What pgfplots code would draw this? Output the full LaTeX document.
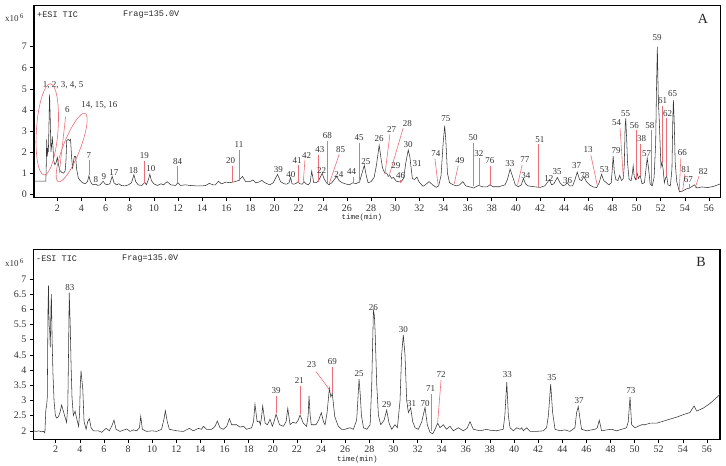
\documentclass[border=0pt]{standalone}
\usepackage{fontspec}
\setmainfont{Liberation Serif}
\setmonofont{Liberation Mono}
\usepackage{pgfplots}
\pgfplotsset{compat=1.18}
\definecolor{ann}{RGB}{236,110,120}
\definecolor{trace}{RGB}{55,55,55}
\pgfplotsset{chrom/.style={
  scale only axis, width=686.7pt, anchor=south west,
  axis line style={line width=1.5pt},
  tick align=outside, major tick length=3.5pt,
  tick style={black, line width=0.6pt},
  xtick={2,4,...,56}, minor tick num=0,
  xtick pos=lower, ytick pos=lower,
  ticklabel style={font=\fontsize{10}{10}\selectfont, text=black!80},
  /pgf/number format/assume math mode=true,
  clip mode=individual,
}}
\tikzset{lab/.style={font=\fontsize{9}{9}\selectfont, inner sep=0pt, text=black!80},
         rl/.style={ann, line width=0.6pt}}
\begin{document}
\begin{tikzpicture}
\useasboundingbox (0,0) rectangle (726pt,466pt);
% ---------------- Panel A ----------------
\begin{axis}[chrom, at={(34pt,268.3pt)}, height=192.4pt,
  xmin=0.07, xmax=56.97, ymin=-0.16, ymax=8.96, ytick={0,1,...,7}]
\addplot[trace, line width=0.55pt] coordinates {
(0.07,0.63) (1.05,0.63) (1.08,1.2) (1.12,2.6) (1.17,1.8) (1.22,2.2) (1.26,2.0) (1.3,3.0) (1.36,4.74) (1.42,3.5) (1.47,2.0) (1.53,2.3) (1.58,2.75) (1.64,2.3) (1.7,1.6) (1.8,1.4) (1.9,1.5) (2.0,1.75) (2.1,1.4) (2.2,1.15) (2.35,1.05) (2.5,1.0) (2.65,1.1) (2.72,1.6) (2.78,2.55) (2.9,2.6) (3.0,2.55) (3.1,2.6) (3.18,1.8) (3.27,1.2) (3.35,1.6) (3.42,1.8) (3.52,1.8) (3.6,1.2) (3.74,0.78) (3.9,0.65) (4.1,0.55) (4.3,0.5) (4.5,0.6) (4.62,0.88) (4.72,0.65) (4.85,0.5) (5.0,0.45) (5.2,0.48) (5.35,0.42) (5.55,0.45) (5.8,0.62) (5.95,0.5) (6.1,0.45) (6.35,0.5) (6.55,0.85) (6.7,0.55) (6.9,0.45) (7.1,0.5) (7.3,0.42) (7.6,0.4) (7.9,0.45) (8.15,0.55) (8.35,0.93) (8.5,0.6) (8.7,0.45) (9.0,0.42) (9.15,0.5) (9.25,0.58) (9.38,0.45) (9.55,0.7) (9.67,0.95) (9.8,0.65) (10.0,0.5) (10.3,0.42) (10.6,0.5) (10.8,0.45) (11.1,0.6) (11.4,0.45) (11.8,0.42) (12.0,0.55) (12.2,0.42) (12.6,0.45) (13.0,0.42) (13.5,0.4) (14.0,0.4) (14.3,0.42) (14.6,0.52) (14.9,0.45) (15.1,0.45) (15.35,0.62) (15.6,0.5) (16.0,0.58) (16.3,0.55) (16.7,0.6) (17.0,0.65) (17.35,0.85) (17.6,0.6) (17.95,0.6) (18.2,0.68) (18.45,0.55) (18.7,0.58) (18.95,0.66) (19.2,0.55) (19.6,0.45) (19.9,0.55) (20.25,0.95) (20.5,0.6) (20.8,0.5) (21.0,0.48) (21.2,0.55) (21.33,0.8) (21.45,0.5) (21.6,0.48) (21.8,0.52) (21.95,0.6) (22.1,0.5) (22.3,0.48) (22.45,0.6) (22.6,0.5) (22.8,0.45) (22.95,0.55) (23.08,1.1) (23.25,0.55) (23.45,0.55) (23.65,0.65) (23.95,1.0) (24.1,0.75) (24.3,0.55) (24.5,0.45) (24.75,0.55) (24.95,0.7) (25.15,0.85) (25.35,0.65) (25.6,0.55) (25.85,0.5) (26.2,0.45) (26.5,0.55) (26.75,0.5) (27.05,0.6) (27.25,1.0) (27.44,1.38) (27.6,0.9) (27.75,0.55) (28.0,0.6) (28.25,0.8) (28.45,1.4) (28.67,2.33) (28.85,1.6) (28.96,1.23) (29.15,1.0) (29.3,1.0) (29.42,0.85) (29.55,0.9) (29.7,0.76) (29.85,0.8) (30.1,0.62) (30.45,0.58) (30.7,0.75) (30.87,1.47) (31.08,2.1) (31.22,1.75) (31.42,0.75) (31.6,0.7) (31.8,0.82) (31.96,0.6) (32.3,0.38) (32.5,0.45) (32.8,0.6) (33.1,0.45) (33.4,0.33) (33.6,0.4) (33.8,0.9) (33.98,2.5) (34.1,3.25) (34.2,2.5) (34.33,1.0) (34.5,0.55) (34.8,0.45) (35.1,0.4) (35.35,0.45) (35.6,0.6) (35.85,0.4) (36.2,0.35) (36.5,0.3) (36.9,0.42) (37.3,0.35) (37.6,0.35) (37.85,0.45) (38.1,0.36) (38.6,0.36) (39.1,0.45) (39.3,0.7) (39.52,1.2) (39.75,0.8) (39.95,0.45) (40.2,0.36) (40.45,0.45) (40.62,0.75) (40.8,0.5) (41.0,0.4) (41.5,0.36) (42.0,0.33) (42.4,0.4) (42.78,0.7) (42.95,0.45) (43.15,0.5) (43.43,0.8) (43.65,0.55) (43.9,0.4) (44.1,0.45) (44.25,0.55) (44.45,0.4) (44.7,0.4) (44.9,0.7) (45.08,1.05) (45.28,0.7) (45.45,0.65) (45.63,0.85) (45.85,0.6) (46.1,0.45) (46.4,0.35) (46.7,0.32) (46.9,0.55) (47.1,0.95) (47.28,0.65) (47.5,0.55) (47.7,0.45) (47.9,0.55) (48.0,1.3) (48.06,1.82) (48.15,1.1) (48.28,0.7) (48.45,0.65) (48.6,0.9) (48.75,0.65) (48.9,0.75) (48.98,1.4) (49.05,3.2) (49.1,3.6) (49.18,2.6) (49.25,1.5) (49.38,0.7) (49.55,0.65) (49.65,1.0) (49.72,1.35) (49.8,0.85) (49.92,0.7) (50.05,1.0) (50.15,0.75) (50.3,0.9) (50.45,0.5) (50.65,0.55) (50.78,1.2) (50.88,1.72) (51.0,1.2) (51.12,0.5) (51.3,0.4) (51.45,0.8) (51.58,2.4) (51.65,5.0) (51.72,7.0) (51.8,4.5) (51.88,3.5) (51.96,2.2) (52.02,1.3) (52.1,1.5) (52.2,1.2) (52.3,0.55) (52.42,0.8) (52.5,0.85) (52.6,0.45) (52.8,0.4) (52.93,1.2) (53.0,3.5) (53.05,4.47) (53.12,3.4) (53.2,1.5) (53.33,0.6) (53.55,0.12) (53.8,0.15) (54.1,0.25) (54.4,0.3) (54.8,0.45) (55.0,0.3) (55.4,0.35) (55.9,0.32) (56.4,0.38) (56.97,0.5)
};
% red lines
\draw[rl] (axis cs:4.62,1.63) -- (axis cs:4.62,0.91);
\draw[rl] (axis cs:2.69,3.68) -- (axis cs:2.16,1.0);
\draw[rl] (axis cs:9.21,1.57) -- (axis cs:9.21,0.55);
\draw[rl] (axis cs:11.97,1.33) -- (axis cs:11.97,0.55);
\draw[rl] (axis cs:16.5,1.36) -- (axis cs:16.5,0.6);
\draw[rl] (axis cs:17.05,2.1) -- (axis cs:17.05,0.62);
\draw[rl] (axis cs:21.97,1.38) -- (axis cs:21.97,0.55);
\draw[rl] (axis cs:22.52,1.63) -- (axis cs:22.38,0.55);
\draw[rl] (axis cs:23.65,1.88) -- (axis cs:23.65,0.6);
\draw[rl] (axis cs:24.37,2.52) -- (axis cs:24.37,0.55);
\draw[rl] (axis cs:25.36,1.9) -- (axis cs:24.53,0.5);
\draw[rl] (axis cs:26.52,0.82) -- (axis cs:26.52,0.52);
\draw[rl] (axis cs:27.02,2.45) -- (axis cs:27.02,0.55);
\draw[rl] (axis cs:29.56,2.84) -- (axis cs:29.15,0.95);
\draw[rl] (axis cs:30.66,3.14) -- (axis cs:29.48,0.85);
\draw[rl] (axis cs:30.45,0.7) -- (axis cs:30.45,0.55);
\draw[rl] (axis cs:33.29,1.68) -- (axis cs:33.56,0.42);
\draw[rl] (axis cs:35.22,1.36) -- (axis cs:34.89,0.5);
\draw[rl] (axis cs:36.46,2.45) -- (axis cs:36.46,0.38);
\draw[rl] (axis cs:36.93,1.7) -- (axis cs:36.93,0.38);
\draw[rl] (axis cs:37.9,1.36) -- (axis cs:37.9,0.42);
\draw[rl] (axis cs:40.52,1.4) -- (axis cs:40.14,0.45);
\draw[rl] (axis cs:41.85,2.38) -- (axis cs:41.85,0.36);
\draw[rl] (axis cs:46.21,1.86) -- (axis cs:46.76,0.38);
\draw[rl] (axis cs:48.63,3.15) -- (axis cs:48.9,0.8);
\draw[rl] (axis cs:49.94,3.04) -- (axis cs:49.94,0.7);
\draw[rl] (axis cs:50.33,2.4) -- (axis cs:50.33,0.85);
\draw[rl] (axis cs:51.24,3.04) -- (axis cs:51.24,0.42);
\draw[rl] (axis cs:52.16,4.2) -- (axis cs:52.16,1.5);
\draw[rl] (axis cs:52.5,3.6) -- (axis cs:52.5,0.85);
\draw[rl] (axis cs:53.67,1.73) -- (axis cs:53.53,0.15);
\draw[rl] (axis cs:54.0,0.98) -- (axis cs:53.82,0.17);
\draw[rl] (axis cs:54.39,0.5) -- (axis cs:54.39,0.3);
\draw[rl] (axis cs:55.18,0.87) -- (axis cs:54.85,0.3);
\coordinate (E1) at (axis cs:1.17,3.08);
\coordinate (E2) at (axis cs:3.19,2.22);
% labels
\node[lab] at (axis cs:2.49,5.18) {1, 2, 3, 4, 5};
\node[lab] at (axis cs:2.83,4.03) {6};
\node[lab] at (axis cs:5.48,4.23) {14, 15, 16};
\node[lab] at (axis cs:4.62,1.86) {7};
\node[lab] at (axis cs:5.2,0.68) {8};
\node[lab] at (axis cs:5.87,0.83) {9};
\node[lab] at (axis cs:6.69,1.02) {17};
\node[lab] at (axis cs:8.3,1.12) {18};
\node[lab] at (axis cs:9.21,1.82) {19};
\node[lab] at (axis cs:9.76,1.23) {10};
\node[lab] at (axis cs:11.97,1.55) {84};
\node[lab] at (axis cs:16.36,1.58) {20};
\node[lab] at (axis cs:17.05,2.34) {11};
\node[lab] at (axis cs:20.31,1.15) {39};
\node[lab] at (axis cs:21.36,0.96) {40};
\node[lab] at (axis cs:21.88,1.59) {41};
\node[lab] at (axis cs:22.66,1.86) {42};
\node[lab] at (axis cs:23.76,2.13) {43};
\node[lab] at (axis cs:24.37,2.78) {68};
\node[lab] at (axis cs:23.9,1.12) {22};
\node[lab] at (axis cs:25.48,2.13) {85};
\node[lab] at (axis cs:25.34,0.96) {24};
\node[lab] at (axis cs:26.39,1.07) {44};
\node[lab] at (axis cs:27.02,2.7) {45};
\node[lab] at (axis cs:27.57,1.55) {25};
\node[lab] at (axis cs:28.67,2.65) {26};
\node[lab] at (axis cs:29.7,3.08) {27};
\node[lab] at (axis cs:31.0,3.36) {28};
\node[lab] at (axis cs:30.06,1.36) {29};
\node[lab] at (axis cs:30.45,0.88) {46};
\node[lab] at (axis cs:31.08,2.34) {30};
\node[lab] at (axis cs:31.82,1.44) {31};
\node[lab] at (axis cs:33.37,1.91) {74};
\node[lab] at (axis cs:34.2,3.57) {75};
\node[lab] at (axis cs:35.36,1.59) {49};
\node[lab] at (axis cs:36.46,2.7) {50};
\node[lab] at (axis cs:36.93,1.94) {32};
\node[lab] at (axis cs:37.85,1.58) {76};
\node[lab] at (axis cs:39.51,1.44) {33};
\node[lab] at (axis cs:40.75,1.63) {77};
\node[lab] at (axis cs:40.83,0.88) {34};
\node[lab] at (axis cs:41.99,2.61) {51};
\node[lab] at (axis cs:42.73,0.73) {12};
\node[lab] at (axis cs:43.42,1.07) {35};
\node[lab] at (axis cs:44.28,0.65) {36};
\node[lab] at (axis cs:45.03,1.36) {37};
\node[lab] at (axis cs:45.72,0.88) {78};
\node[lab] at (axis cs:45.99,2.1) {13};
\node[lab] at (axis cs:47.33,1.15) {53};
\node[lab] at (axis cs:48.3,2.07) {79};
\node[lab] at (axis cs:48.35,3.39) {54};
\node[lab] at (axis cs:49.09,3.84) {55};
\node[lab] at (axis cs:49.81,3.28) {56};
\node[lab] at (axis cs:50.41,2.62) {38};
\node[lab] at (axis cs:51.1,3.27) {58};
\node[lab] at (axis cs:50.83,1.91) {57};
\node[lab] at (axis cs:51.71,7.42) {59};
\node[lab] at (axis cs:52.16,4.44) {61};
\node[lab] at (axis cs:52.58,3.84) {62};
\node[lab] at (axis cs:52.99,4.76) {65};
\node[lab] at (axis cs:53.8,1.97) {66};
\node[lab] at (axis cs:54.08,1.18) {81};
\node[lab] at (axis cs:54.3,0.68) {67};
\node[lab] at (axis cs:55.53,1.07) {82};
\end{axis}
\draw[ann, line width=0.6pt, rotate around={-4:(E1)}] (E1) ellipse [x radius=10.8pt, y radius=45.7pt];
\draw[ann, line width=0.6pt, rotate around={68.7:(E2)}] (E2) ellipse [x radius=36.7pt, y radius=8.5pt];
% ---------------- Panel B ----------------
\begin{axis}[chrom, at={(33.3pt,26.7pt)}, height=190pt,
  xmin=0.14, xmax=57.08, ymin=1.72, ymax=7.98, ytick={2,2.5,...,7}]
\addplot[trace, line width=0.55pt] coordinates {
(0.14,2.0) (0.4,1.98) (0.6,2.0) (0.8,1.97) (1.0,1.98) (1.1,1.93) (1.18,2.7) (1.24,2.8) (1.3,3.1) (1.36,6.0) (1.4,6.78) (1.45,5.5) (1.5,5.3) (1.55,4.75) (1.6,6.0) (1.64,6.5) (1.7,5.0) (1.77,3.9) (1.86,3.0) (1.97,2.5) (2.08,2.42) (2.22,2.46) (2.35,2.6) (2.49,2.85) (2.63,2.65) (2.77,2.45) (2.9,2.28) (3.0,2.8) (3.06,4.5) (3.12,6.55) (3.2,5.5) (3.27,4.2) (3.35,3.1) (3.46,2.5) (3.6,2.65) (3.74,2.4) (3.9,2.15) (3.98,2.6) (4.04,3.55) (4.1,3.98) (4.16,3.7) (4.24,3.4) (4.35,2.3) (4.52,2.05) (4.65,2.3) (4.79,2.4) (4.93,2.1) (5.12,2.0) (5.54,2.0) (5.81,1.95) (6.17,2.08) (6.45,2.0) (6.64,2.15) (6.83,2.35) (7.0,2.05) (7.33,1.98) (7.6,2.02) (7.89,2.06) (8.16,1.98) (8.44,2.03) (8.71,2.0) (8.94,2.1) (9.05,2.48) (9.18,2.05) (9.54,1.98) (10.0,2.0) (10.37,1.98) (10.78,2.05) (10.98,2.4) (11.09,2.66) (11.25,2.3) (11.42,2.05) (12.03,2.0) (12.58,1.98) (13.08,2.08) (13.41,2.0) (13.83,2.08) (14.1,2.05) (14.24,2.15) (14.5,2.05) (14.94,2.05) (15.21,2.15) (15.4,2.32) (15.62,2.1) (15.9,2.05) (16.18,2.15) (16.4,2.4) (16.59,2.2) (17.0,2.2) (17.28,2.12) (17.56,2.15) (17.83,2.05) (18.24,2.1) (18.4,2.3) (18.52,2.88) (18.7,2.3) (18.87,2.32) (18.97,2.2) (19.08,2.5) (19.16,2.82) (19.36,2.25) (19.55,2.2) (19.77,2.38) (19.96,2.15) (20.1,2.3) (20.27,2.55) (20.55,2.2) (20.88,2.15) (21.1,2.3) (21.24,2.74) (21.43,2.2) (21.65,2.28) (21.93,2.25) (22.1,2.35) (22.26,2.52) (22.53,2.25) (22.8,2.15) (22.93,2.5) (23.0,3.15) (23.1,2.5) (23.19,2.2) (23.58,2.2) (23.8,2.35) (24.02,2.6) (24.2,2.3) (24.33,2.2) (24.5,2.6) (24.69,3.4) (24.81,3.12) (24.93,3.23) (25.14,2.46) (25.43,2.15) (25.7,2.05) (25.99,2.05) (26.4,2.1) (26.68,2.05) (26.95,2.35) (27.05,3.0) (27.15,3.7) (27.25,3.2) (27.35,2.5) (27.52,2.1) (27.8,2.05) (28.07,2.2) (28.2,3.5) (28.34,5.96) (28.42,5.8) (28.48,5.3) (28.62,3.5) (28.76,2.5) (28.95,2.2) (29.23,2.35) (29.44,2.68) (29.64,2.25) (29.86,2.05) (30.13,2.2) (30.33,2.1) (30.55,3.0) (30.68,4.5) (30.82,5.16) (30.96,4.5) (31.1,3.0) (31.24,2.6) (31.43,2.76) (31.6,2.3) (31.8,2.1) (32.07,2.05) (32.35,2.3) (32.62,2.77) (32.81,2.2) (33.03,1.95) (33.26,1.9) (33.45,2.05) (33.67,2.25) (33.86,2.1) (34.14,2.2) (34.4,2.05) (34.69,2.15) (34.97,2.0) (35.38,2.1) (35.8,2.0) (36.1,2.08) (36.35,2.3) (36.63,2.05) (37.19,2.0) (37.74,2.05) (38.0,2.02) (38.55,2.0) (39.1,2.05) (39.24,2.5) (39.4,3.6) (39.53,2.5) (39.67,2.1) (39.95,2.0) (40.22,2.1) (40.5,2.05) (40.64,2.1) (40.78,2.0) (41.05,2.1) (41.33,1.98) (41.88,1.98) (42.44,2.0) (42.7,2.1) (42.85,2.5) (43.04,3.54) (43.2,2.6) (43.4,2.05) (43.81,2.0) (44.22,2.03) (44.64,1.98) (45.05,2.1) (45.19,2.6) (45.33,2.8) (45.47,2.4) (45.6,2.05) (46.02,2.0) (46.71,2.05) (46.9,2.1) (47.07,2.35) (47.26,2.0) (47.68,2.03) (48.1,2.05) (48.5,2.0) (48.93,2.05) (49.33,2.1) (49.47,2.3) (49.62,3.12) (49.75,2.2) (50.03,2.1) (50.3,2.15) (50.58,2.2) (50.86,2.2) (51.27,2.25) (51.82,2.25) (52.65,2.35) (53.48,2.45) (54.17,2.55) (54.58,2.6) (54.93,2.82) (55.15,2.65) (55.7,2.75) (56.25,2.9) (56.67,3.05) (57.08,3.2)
};
\draw[rl] (axis cs:20.27,3.14) -- (axis cs:20.27,2.59);
\draw[rl] (axis cs:22.26,3.48) -- (axis cs:22.26,2.55);
\draw[rl] (axis cs:23.58,3.95) -- (axis cs:24.69,3.36);
\draw[rl] (axis cs:24.94,4.11) -- (axis cs:24.94,3.23);
\draw[rl] (axis cs:33.17,3.2) -- (axis cs:33.17,2.0);
\draw[rl] (axis cs:33.95,3.67) -- (axis cs:33.67,2.28);
\node[lab] at (axis cs:3.18,6.73) {83};
\node[lab] at (axis cs:20.27,3.32) {39};
\node[lab] at (axis cs:22.2,3.65) {21};
\node[lab] at (axis cs:23.22,4.17) {23};
\node[lab] at (axis cs:24.94,4.28) {69};
\node[lab] at (axis cs:27.15,3.87) {25};
\node[lab] at (axis cs:28.33,6.07) {26};
\node[lab] at (axis cs:29.44,2.85) {29};
\node[lab] at (axis cs:30.82,5.34) {30};
\node[lab] at (axis cs:31.52,2.9) {31};
\node[lab] at (axis cs:32.62,2.9) {70};
\node[lab] at (axis cs:33.09,3.4) {71};
\node[lab] at (axis cs:33.95,3.86) {72};
\node[lab] at (axis cs:39.45,3.86) {33};
\node[lab] at (axis cs:43.13,3.75) {35};
\node[lab] at (axis cs:45.39,3.01) {37};
\node[lab] at (axis cs:49.68,3.34) {73};
\end{axis}
% ---------------- free texts ----------------
\node[font=\fontsize{9}{9}\selectfont, text=black!80, inner sep=0pt, anchor=west] at (5pt,448pt) {x10\raisebox{3pt}{\fontsize{7}{7}\selectfont\,6}};
\node[font=\fontsize{9}{9}\selectfont, text=black!80, inner sep=0pt, anchor=west] at (5pt,203.7pt) {x10\raisebox{3pt}{\fontsize{7}{7}\selectfont\,6}};
\node[font=\ttfamily\fontsize{8.5}{8.5}\selectfont, text=black!85, inner sep=0pt, anchor=west] at (37pt,451pt) {+ESI TIC};
\node[font=\ttfamily\fontsize{8.5}{8.5}\selectfont, text=black!85, inner sep=0pt, anchor=west] at (123pt,451pt) {Frag=135.0V};
\node[font=\ttfamily\fontsize{8.5}{8.5}\selectfont, text=black!85, inner sep=0pt, anchor=west] at (36pt,207pt) {-ESI TIC};
\node[font=\ttfamily\fontsize{8.5}{8.5}\selectfont, text=black!85, inner sep=0pt, anchor=west] at (122pt,207pt) {Frag=135.0V};
\node[font=\fontsize{14}{14}\selectfont, text=black!85, inner sep=0pt] at (703pt,447pt) {A};
\node[font=\fontsize{14}{14}\selectfont, text=black!85, inner sep=0pt] at (701pt,203.7pt) {B};
\node[font=\ttfamily\fontsize{7.5}{7.5}\selectfont, text=black!85, inner sep=0pt] at (362pt,248pt) {time(min)};
\node[font=\ttfamily\fontsize{7.5}{7.5}\selectfont, text=black!85, inner sep=0pt] at (357.5pt,6.5pt) {time(min)};
\end{tikzpicture}
\end{document}
